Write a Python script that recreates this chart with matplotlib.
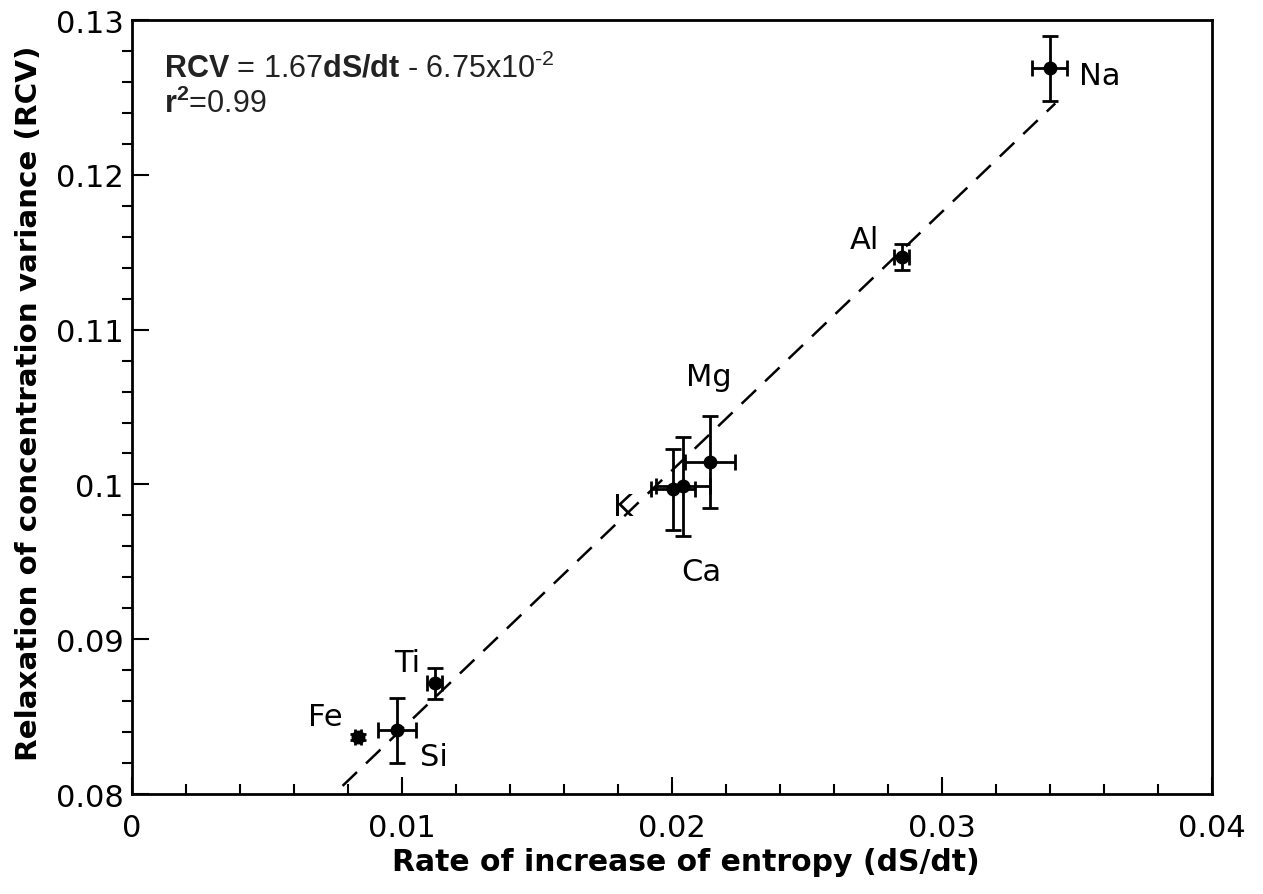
import numpy as np
import matplotlib
matplotlib.use('Agg')
import matplotlib.pyplot as plt
from matplotlib.ticker import MultipleLocator, FormatStrFormatter

# elements: rate of increase of entropy (dS/dt) vs relaxation of concentration variance
elements = ['Na', 'Al', 'Mg', 'K', 'Ca', 'Ti', 'Si', 'Fe']
dsdt = [0.0340, 0.02852, 0.02141, 0.02004, 0.02041, 0.01122, 0.00981, 0.00837]
dsdt_err = [0.00065, 0.00028, 0.00093, 0.00080, 0.00100, 0.00028, 0.00070, 0.00010]
rcv = [0.1269, 0.1147, 0.10142, 0.09968, 0.09987, 0.08716, 0.08413, 0.08368]
rcv_err = [0.0021, 0.00085, 0.00297, 0.00260, 0.00320, 0.0010, 0.0021, 0.0002]

# label positions (data coords)
lab_x = [0.03585, 0.02715, 0.02135, 0.01820, 0.02110, 0.01020, 0.01120, 0.00715]
lab_y = [0.12640, 0.11580, 0.10700, 0.09860, 0.09435, 0.08850, 0.08245, 0.08500]

fit_slope = 1.67
fit_icpt = 0.0675
fit_x = np.array([0.0078, 0.0342])

plt.rcParams['mathtext.fontset'] = 'custom'
plt.rcParams['mathtext.rm'] = 'Liberation Sans'
plt.rcParams['mathtext.bf'] = 'Liberation Sans:bold'

fig = plt.figure(figsize=(12.63, 8.95), dpi=100)
ax = fig.add_axes([0.1045, 0.1117, 0.855, 0.8648])

ax.plot(fit_x, fit_slope * fit_x + fit_icpt, color='black', linestyle=(0, (8, 5)), linewidth=1.8)
ax.errorbar(dsdt, rcv, xerr=dsdt_err, yerr=rcv_err, fmt='o', color='black',
            markersize=9, elinewidth=2.0, capsize=6, capthick=2.0)

for name, lx, ly in zip(elements, lab_x, lab_y):
    ax.text(lx, ly, name, fontsize=22, ha='center', va='center')

ax.text(0.0012, 0.12632, r'$\mathbf{RCV}$ = 1.67$\mathbf{dS/dt}$ - 6.75x10$^{\text{-2}}$',
        fontsize=22, family='Liberation Sans', color='#222222')
ax.text(0.0012, 0.12406, r'$\mathbf{r^2}$=0.99', fontsize=22, family='Liberation Sans', color='#222222')

ax.set_xlim(0, 0.04)
ax.set_ylim(0.08, 0.13)
ax.xaxis.set_major_locator(MultipleLocator(0.01))
ax.xaxis.set_minor_locator(MultipleLocator(0.002))
ax.yaxis.set_major_locator(MultipleLocator(0.01))
ax.yaxis.set_minor_locator(MultipleLocator(0.002))
ax.xaxis.set_major_formatter(FormatStrFormatter('%g'))
ax.yaxis.set_major_formatter(FormatStrFormatter('%g'))

ax.tick_params(axis='x', which='major', direction='in', length=12, width=1.5, labelsize=22, pad=14)
ax.tick_params(axis='x', which='minor', direction='in', length=7, width=1.5)
ax.tick_params(axis='y', which='major', direction='in', length=12, width=1.5, labelsize=22, pad=6)
ax.tick_params(axis='y', which='minor', direction='out', length=7, width=1.5)
for s in ax.spines.values():
    s.set_linewidth(2.0)

ax.set_xlabel('Rate of increase of entropy (dS/dt)', fontsize=21.5, fontweight='bold')
ax.set_ylabel('Relaxation of concentration variance (RCV)', fontsize=21.2, fontweight='bold')
ax.xaxis.set_label_coords(0.513, -0.069)
ax.yaxis.set_label_coords(-0.082, 0.506)

fig.savefig('out.png', dpi=100)
